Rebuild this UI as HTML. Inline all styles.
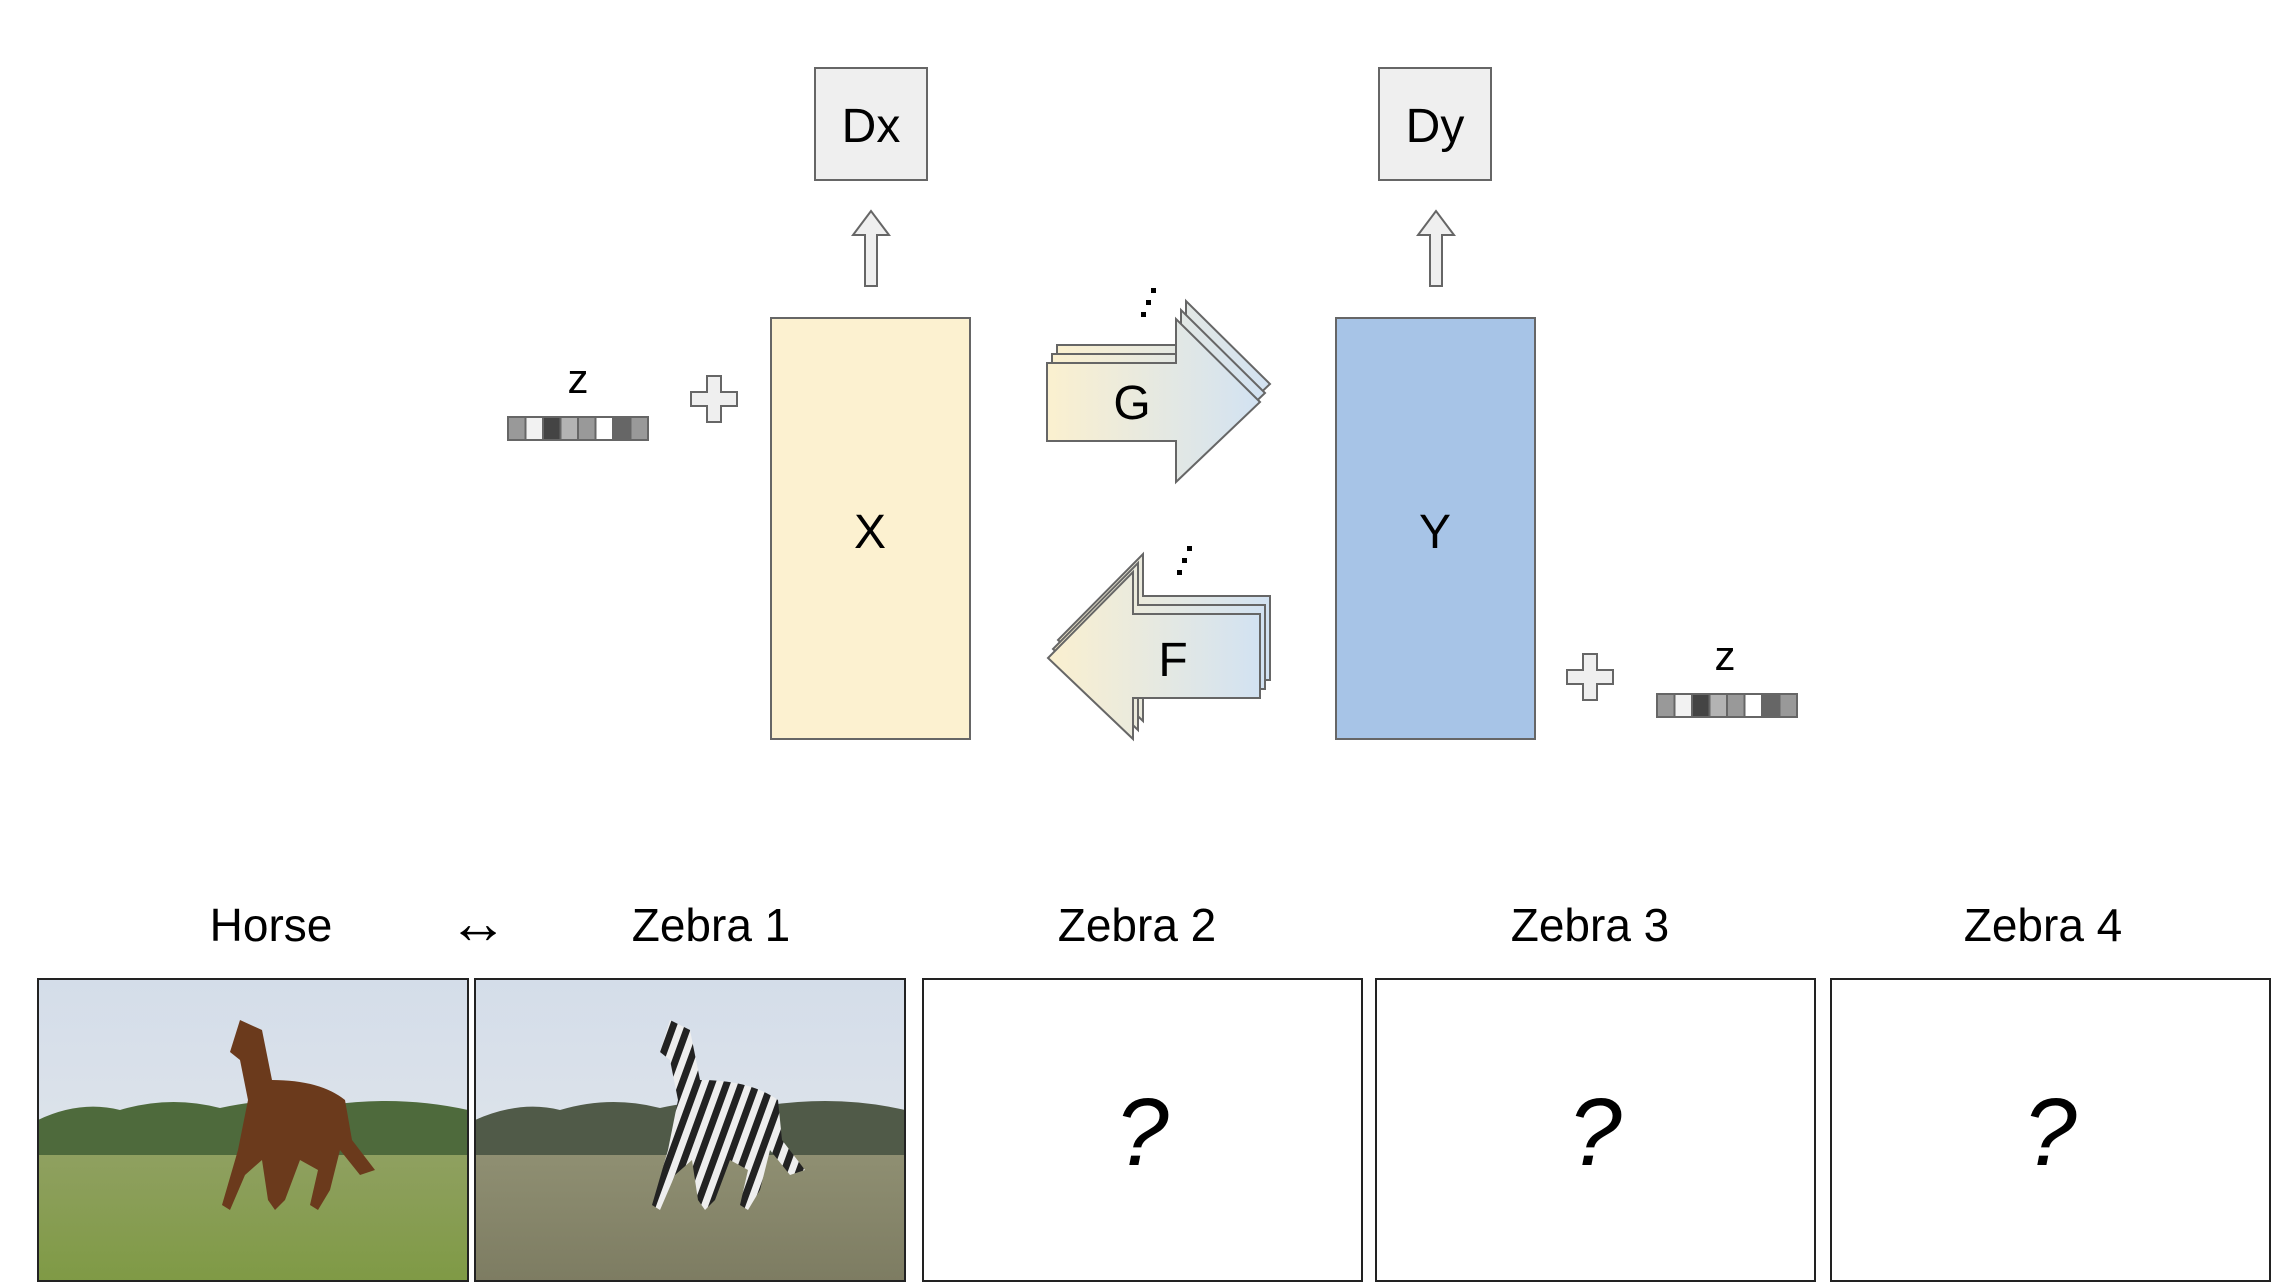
<!DOCTYPE html>
<html><head><meta charset="utf-8"><style>
html,body{margin:0;padding:0;background:#fff;}
svg{display:block;}
text{font-family:"Liberation Sans",Arial,sans-serif;fill:#000;}
</style></head><body>
<svg width="2274" height="1288" viewBox="0 0 2274 1288" xmlns="http://www.w3.org/2000/svg">
<defs>
<linearGradient id="gy" x1="0" x2="1" y1="0" y2="0"><stop offset="0" stop-color="#fbf0cf"/><stop offset="1" stop-color="#d2e2f2"/></linearGradient>
<linearGradient id="sky" x1="0" x2="0" y1="0" y2="1"><stop offset="0" stop-color="#d4dde9"/><stop offset="1" stop-color="#e4e8ec"/></linearGradient>
<linearGradient id="grass" x1="0" x2="0" y1="0" y2="1"><stop offset="0" stop-color="#8fa060"/><stop offset="1" stop-color="#7f9a45"/></linearGradient>
<linearGradient id="grass2" x1="0" x2="0" y1="0" y2="1"><stop offset="0" stop-color="#8f8f72"/><stop offset="1" stop-color="#7d7c62"/></linearGradient>
<pattern id="stripes" width="14" height="14" patternUnits="userSpaceOnUse" patternTransform="rotate(20)"><rect width="14" height="14" fill="#eee"/><rect width="7" height="14" fill="#222"/></pattern>
</defs>

<rect x="815" y="68" width="112" height="112" fill="#efefef" stroke="#666" stroke-width="2"/>
<text x="871" y="142" font-size="48" text-anchor="middle">Dx</text>
<rect x="1379" y="68" width="112" height="112" fill="#efefef" stroke="#666" stroke-width="2"/>
<text x="1435" y="142" font-size="48" text-anchor="middle">Dy</text>

<polygon points="865,286 877,286 877,235 889,235 871,211 853,235 865,235" fill="#efefef" stroke="#666" stroke-width="2"/>
<polygon points="1430,286 1442,286 1442,235 1454,235 1436,211 1418,235 1430,235" fill="#efefef" stroke="#666" stroke-width="2"/>

<rect x="771" y="318" width="199" height="421" fill="#fcf1d0" stroke="#666" stroke-width="2"/>
<text x="870" y="548" font-size="48" text-anchor="middle">X</text>
<rect x="1336" y="318" width="199" height="421" fill="#a7c4e7" stroke="#666" stroke-width="2"/>
<text x="1435" y="548" font-size="48" text-anchor="middle">Y</text>

<g stroke="#666" stroke-width="2" fill="url(#gy)">
<polygon transform="translate(10,-18)" points="1047,363 1176,363 1176,319 1260,402 1176,482 1176,441 1047,441"/>
<polygon transform="translate(5,-9)" points="1047,363 1176,363 1176,319 1260,402 1176,482 1176,441 1047,441"/>
<polygon points="1047,363 1176,363 1176,319 1260,402 1176,482 1176,441 1047,441"/>
</g>
<text x="1132" y="419" font-size="48" text-anchor="middle">G</text>
<g fill="#000"><rect x="1151" y="288" width="5" height="5"/><rect x="1146" y="300" width="5" height="5"/><rect x="1141" y="312" width="5" height="5"/></g>

<g stroke="#666" stroke-width="2" fill="url(#gy)">
<polygon transform="translate(10,-18)" points="1260,614 1133,614 1133,572 1048,658 1133,739 1133,698 1260,698"/>
<polygon transform="translate(5,-9)" points="1260,614 1133,614 1133,572 1048,658 1133,739 1133,698 1260,698"/>
<polygon points="1260,614 1133,614 1133,572 1048,658 1133,739 1133,698 1260,698"/>
</g>
<text x="1173" y="676" font-size="48" text-anchor="middle">F</text>
<g fill="#000"><rect x="1187" y="546" width="5" height="5"/><rect x="1182" y="558" width="5" height="5"/><rect x="1177" y="570" width="5" height="5"/></g>

<text x="578" y="393" font-size="42" text-anchor="middle">z</text>
<g stroke="#666" stroke-width="2">
<rect x="508" y="417" width="17.5" height="23" fill="#999"/>
<rect x="525.5" y="417" width="17.5" height="23" fill="#f2f2f2"/>
<rect x="543" y="417" width="17.5" height="23" fill="#444"/>
<rect x="560.5" y="417" width="17.5" height="23" fill="#b3b3b3"/>
<rect x="578" y="417" width="17.5" height="23" fill="#999"/>
<rect x="595.5" y="417" width="17.5" height="23" fill="#fff"/>
<rect x="613" y="417" width="17.5" height="23" fill="#666"/>
<rect x="630.5" y="417" width="17.5" height="23" fill="#999"/>
</g>
<polygon points="707,376 721,376 721,392 737,392 737,406 721,406 721,422 707,422 707,406 691,406 691,392 707,392" fill="#efefef" stroke="#666" stroke-width="2"/>

<text x="1725" y="670" font-size="42" text-anchor="middle">z</text>
<g stroke="#666" stroke-width="2">
<rect x="1657" y="694" width="17.5" height="23" fill="#999"/>
<rect x="1674.5" y="694" width="17.5" height="23" fill="#f2f2f2"/>
<rect x="1692" y="694" width="17.5" height="23" fill="#444"/>
<rect x="1709.5" y="694" width="17.5" height="23" fill="#b3b3b3"/>
<rect x="1727" y="694" width="17.5" height="23" fill="#999"/>
<rect x="1744.5" y="694" width="17.5" height="23" fill="#fff"/>
<rect x="1762" y="694" width="17.5" height="23" fill="#666"/>
<rect x="1779.5" y="694" width="17.5" height="23" fill="#999"/>
</g>
<polygon points="1583,654 1597,654 1597,670 1613,670 1613,684 1597,684 1597,700 1583,700 1583,684 1567,684 1567,670 1583,670" fill="#efefef" stroke="#666" stroke-width="2"/>

<g font-size="46" text-anchor="middle">
<text x="271" y="941">Horse</text>
<text x="478" y="943" font-size="60">↔</text>
<text x="711" y="941">Zebra 1</text>
<text x="1137" y="941">Zebra 2</text>
<text x="1590" y="941">Zebra 3</text>
<text x="2043" y="941">Zebra 4</text>
</g>

<g>
<rect x="38" y="979" width="430" height="302" fill="url(#sky)"/>
<path d="M38,1120 Q80,1100 120,1110 Q170,1095 220,1108 Q280,1095 330,1105 Q400,1095 468,1110 L468,1160 L38,1160Z" fill="#4e6a3c"/>
<rect x="38" y="1155" width="430" height="126" fill="url(#grass)"/>
<path d="M240,1020 L262,1030 L272,1080 Q320,1080 345,1100 L352,1140 L375,1170 L360,1175 L340,1150 L330,1190 L318,1210 L310,1205 L318,1170 L300,1160 L285,1200 L275,1210 L268,1200 L262,1160 L245,1175 L230,1210 L222,1205 L238,1150 L248,1100 L240,1060 L230,1052 Z" fill="#6b3a1c"/>
</g>
<rect x="38" y="979" width="430" height="302" fill="none" stroke="#222" stroke-width="2"/>

<g>
<rect x="475" y="979" width="430" height="302" fill="url(#sky)"/>
<path d="M475,1120 Q520,1100 560,1110 Q610,1095 660,1108 Q720,1095 770,1105 Q840,1095 905,1110 L905,1160 L475,1160Z" fill="#505a48"/>
<rect x="475" y="1155" width="430" height="126" fill="url(#grass2)"/>
<path d="M670,1020 L690,1030 L700,1080 Q750,1080 778,1100 L782,1140 L805,1170 L790,1175 L770,1150 L760,1190 L748,1210 L740,1205 L748,1170 L730,1160 L715,1200 L705,1210 L698,1200 L692,1160 L675,1175 L660,1210 L652,1205 L668,1150 L678,1100 L670,1060 L660,1052 Z" fill="url(#stripes)"/>
</g>
<rect x="475" y="979" width="430" height="302" fill="none" stroke="#222" stroke-width="2"/>

<g fill="#fff" stroke="#222" stroke-width="2">
<rect x="923" y="979" width="439" height="302"/>
<rect x="1376" y="979" width="439" height="302"/>
<rect x="1831" y="979" width="439" height="302"/>
</g>
<g font-size="96" font-style="italic" text-anchor="middle">
<text x="1142" y="1165">?</text>
<text x="1595" y="1165">?</text>
<text x="2050" y="1165">?</text>
</g>
</svg>
</body></html>
